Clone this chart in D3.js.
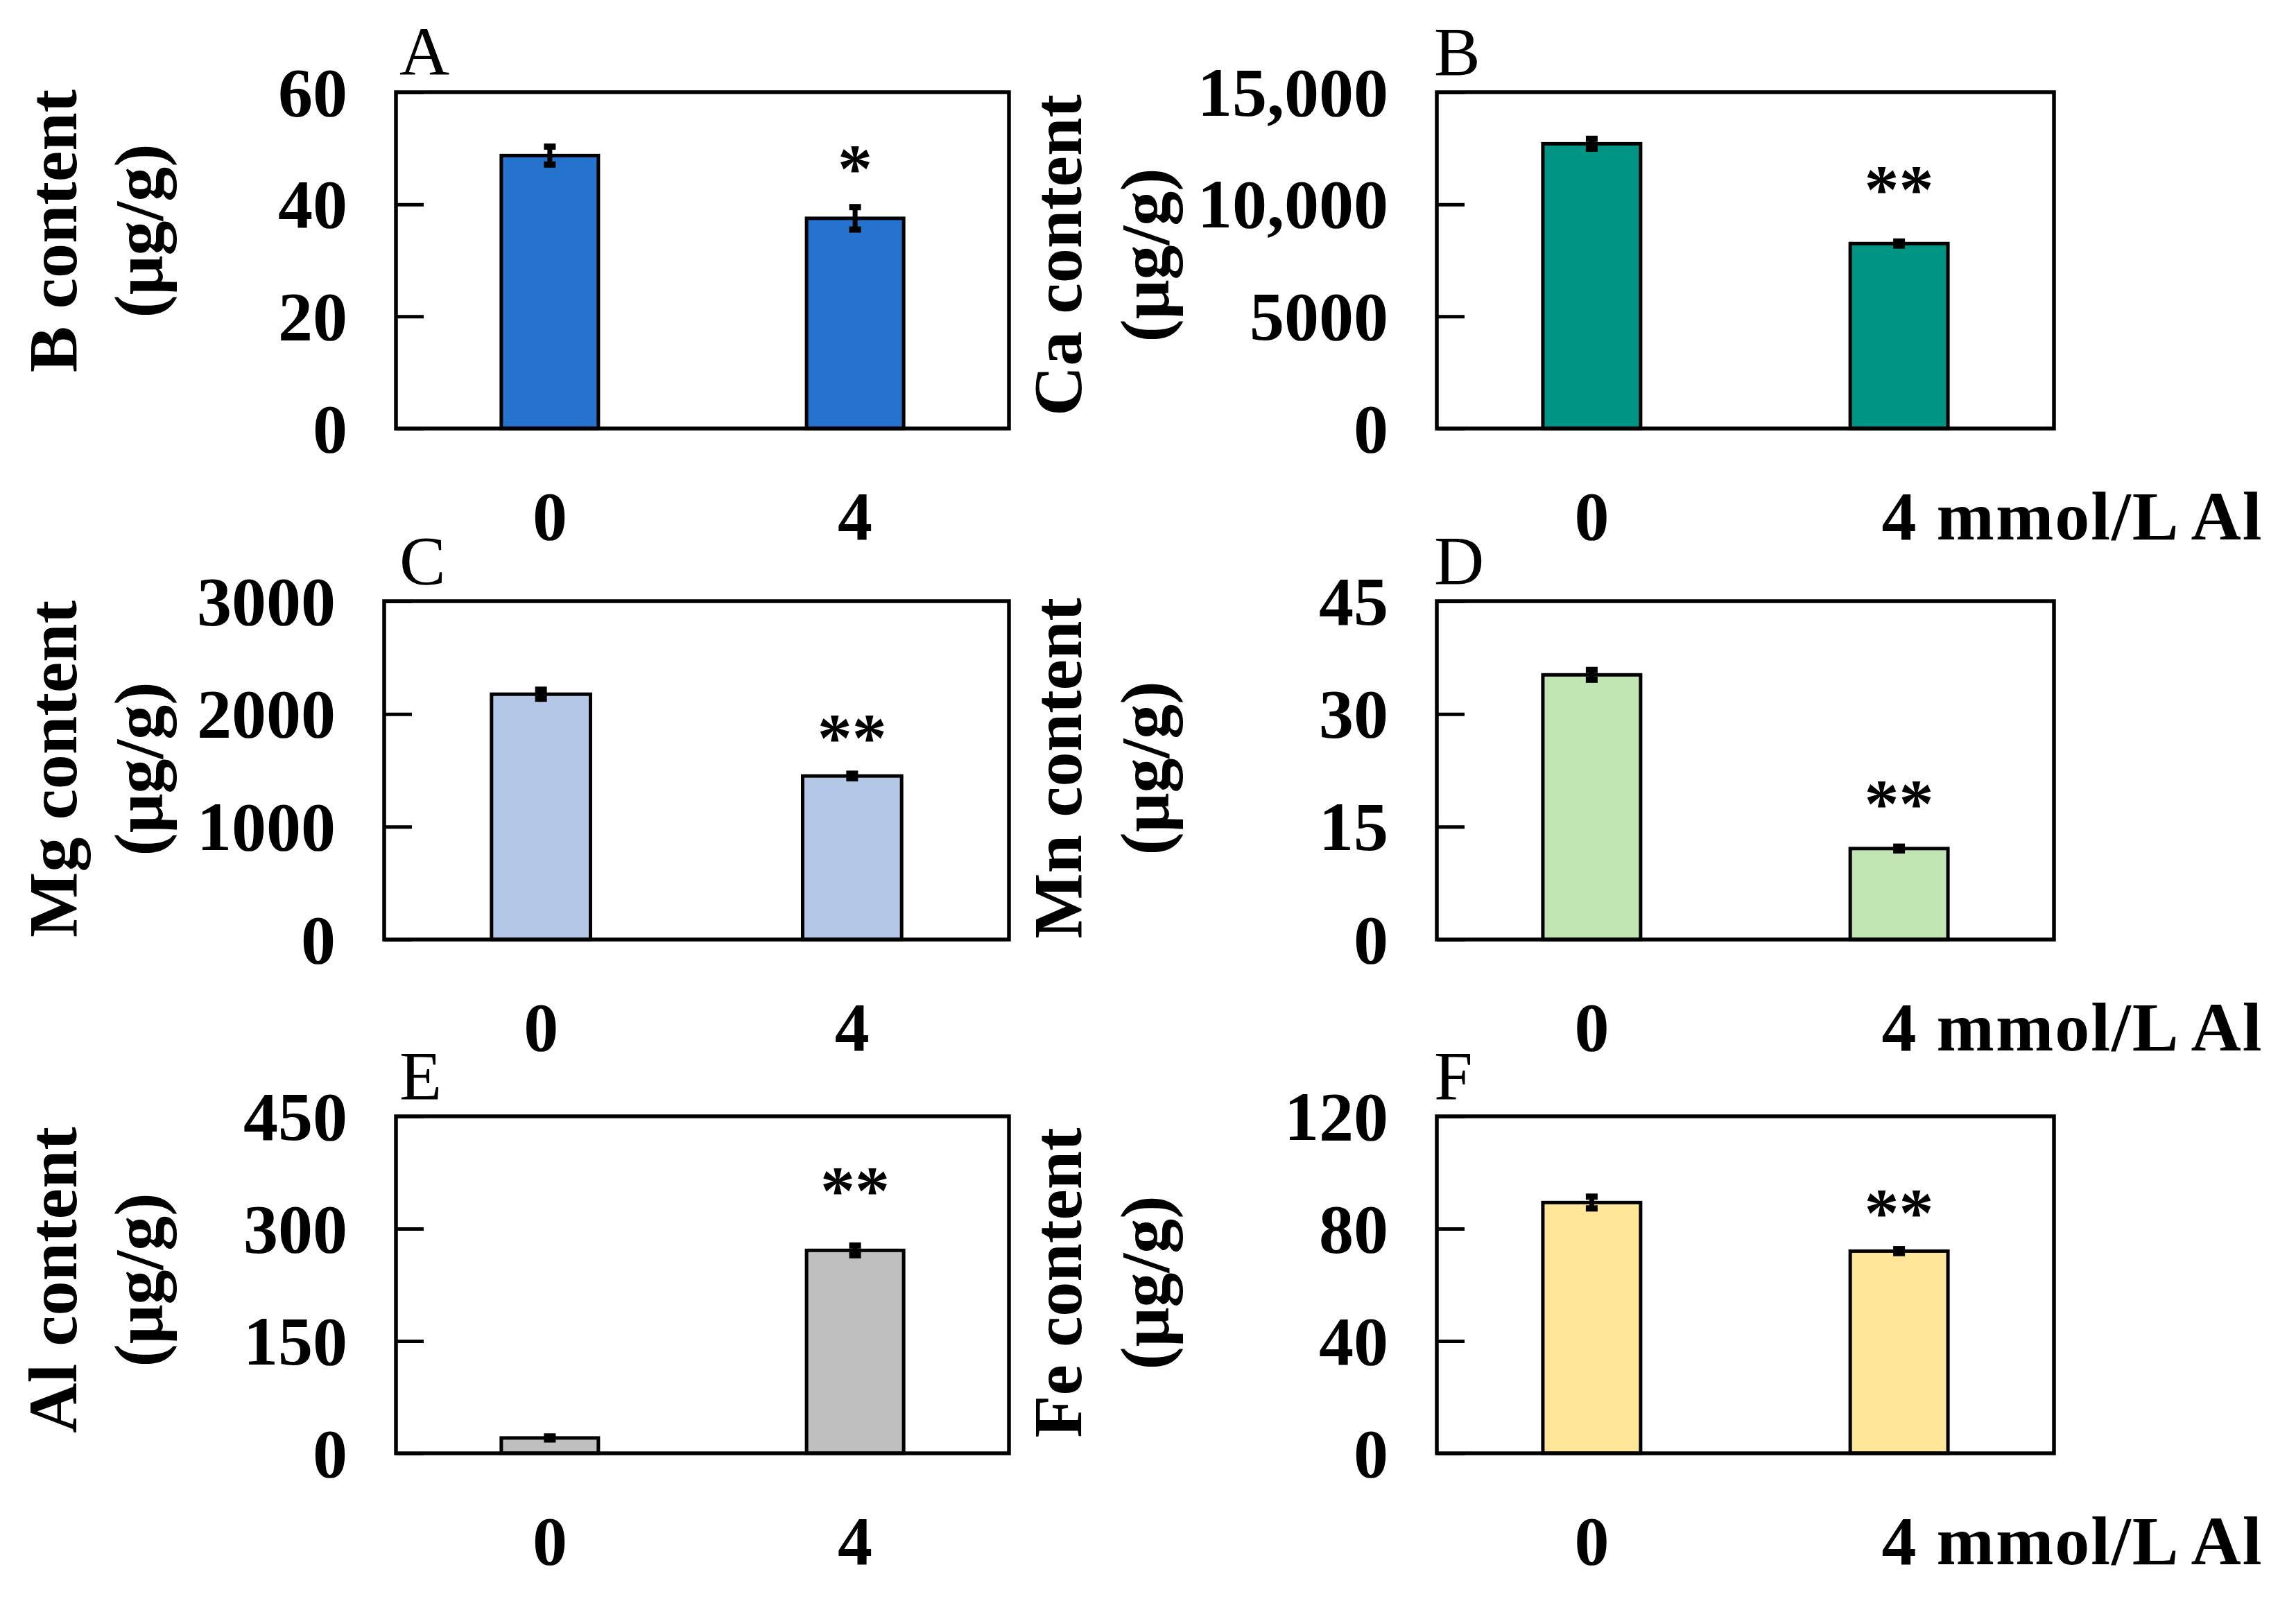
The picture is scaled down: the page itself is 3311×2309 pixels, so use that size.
<!DOCTYPE html>
<html>
<head>
<meta charset="utf-8">
<script src="https://cdn.jsdelivr.net/npm/d3@7"></script>
<style>
  body { margin: 0; background: #fff; }
  svg { display: block; }
  text { font-family: "Liberation Serif", "Times New Roman", serif; }
</style>
</head>
<body>
<svg id="fig" width="3311" height="2309"></svg>
<script>
// ---------------- donnees ----------------
var panelIds = ["A", "B", "C", "D", "E", "F"];
var elements = ["B", "Ca", "Mg", "Mn", "Al", "Fe"];
var treatments = ["0", "4"];          // mmol/L Al
var unitSuffix = " mmol/L Al";

// moyennes (µg/g) et erreurs
var bMeans  = [48.7, 37.5],    bErr  = [1.6, 2.0];
var caMeans = [12700, 8250],   caErr = [220, 90];
var mgMeans = [2175, 1450],    mgErr = [40, 20];
var mnMeans = [35.2, 12.1],    mnErr = [0.65, 0.25];
var alMeans = [20.5, 271],     alErr = [2.0, 6.5];
var feMeans = [89.3, 72.0],    feErr = [2.1, 0.7];

var yMax = [60, 15000, 3000, 45, 450, 120];
var yTickLabels = [
  ["0", "20", "40", "60"],
  ["0", "5000", "10,000", "15,000"],
  ["0", "1000", "2000", "3000"],
  ["0", "15", "30", "45"],
  ["0", "150", "300", "450"],
  ["0", "40", "80", "120"]
];
var signif = [["", "*"], ["", "**"], ["", "**"], ["", "**"], ["", "**"], ["", "**"]];

var means = [bMeans, caMeans, mgMeans, mnMeans, alMeans, feMeans];
var errs  = [bErr, caErr, mgErr, mnErr, alErr, feErr];

// ---------------- styles / mise en page ----------------
var barColors = ["#2573cf", "#009485", "#b4c7e7", "#c1e6b3", "#bfbfbf", "#ffe699"];

var cols = [
  { x0: 571,  x1: 1455, labelX: [110, 234],   letterX: 576 },
  { x0: 2072, x1: 2962, labelX: [1559, 1685], letterX: 2068 }
];
var rows = [
  { y0: 133,  y1: 618 },
  { y0: 867,  y1: 1355 },
  { y0: 1610, y1: 2096 }
];
var labelCenters = [333, 368, 1109, 1108, 1846, 1850];
var starGap = [18, 38, 14, 25, 42, 15];

var svg = d3.select("#fig");
svg.append("rect").attr("width", 3311).attr("height", 2309).attr("fill", "#fff");

panelIds.forEach(function(id, i) {
  var col = cols[i % 2], row = rows[Math.floor(i / 2)];
  var x0 = col.x0;
  if (id === "C") x0 = 554; // le cadre C est un peu plus large
  var w = col.x1 - x0, h = row.y1 - row.y0;

  var g = svg.append("g").attr("transform", "translate(" + x0 + "," + row.y0 + ")");

  var x = d3.scaleBand().domain(treatments).range([0, w])
    .paddingInner(0.682).paddingOuter(0.345);
  var y = d3.scaleLinear().domain([0, yMax[i]]).range([h, 0]);

  // axe y : graduations vers l'interieur
  var tickVals = d3.range(4).map(function(k) { return yMax[i] * k / 3; });
  var yAxis = d3.axisLeft(y)
    .tickValues(tickVals)
    .tickSizeInner(-40)
    .tickSizeOuter(0)
    .tickPadding(70)
    .tickFormat(function(d, k) { return yTickLabels[i][k]; });
  var ax = g.append("g").call(yAxis);
  ax.select(".domain").remove();
  ax.selectAll("line").attr("stroke", "#000").attr("stroke-width", 5);
  ax.selectAll("text")
    .attr("fill", "#000")
    .attr("font-size", 100)
    .attr("font-weight", "bold")
    .attr("font-family", "Liberation Serif, Times New Roman, serif")
    .attr("dy", "0.33em");

  // barres
  var data = treatments.map(function(t, k) {
    return { t: t, m: means[i][k], e: errs[i][k], s: signif[i][k] };
  });
  g.selectAll(".bar").data(data).enter().append("rect")
    .attr("class", "bar")
    .attr("x", function(d) { return x(d.t); })
    .attr("y", function(d) { return y(d.m); })
    .attr("width", x.bandwidth())
    .attr("height", function(d) { return h - y(d.m); })
    .attr("fill", barColors[i])
    .attr("stroke", "#000")
    .attr("stroke-width", 5);

  // barres d'erreur
  var cx = function(d) { return x(d.t) + x.bandwidth() / 2; };
  var eb = g.selectAll(".err").data(data).enter().append("g").attr("class", "err");
  eb.append("line")
    .attr("x1", cx).attr("x2", cx)
    .attr("y1", function(d) { return y(d.m + d.e); })
    .attr("y2", function(d) { return y(d.m - d.e); })
    .attr("stroke", "#000").attr("stroke-width", 7);
  [1, -1].forEach(function(sgn) {
    eb.append("line")
      .attr("x1", function(d) { return cx(d) - 8.5; })
      .attr("x2", function(d) { return cx(d) + 8.5; })
      .attr("y1", function(d) { return y(d.m + sgn * d.e); })
      .attr("y2", function(d) { return y(d.m + sgn * d.e); })
      .attr("stroke", "#000").attr("stroke-width", 9);
  });

  // etoiles de significativite
  g.selectAll(".sig").data(data).enter().append("text")
    .attr("class", "sig")
    .attr("x", cx)
    .attr("y", function(d) { return y(d.m + d.e) - 4.5 - starGap[i]; })
    .attr("text-anchor", "middle")
    .attr("font-size", 100)
    .attr("font-weight", "bold")
    .text(function(d) { return d.s; });

  // cadre
  g.append("rect")
    .attr("width", w).attr("height", h)
    .attr("fill", "none").attr("stroke", "#000").attr("stroke-width", 5.5);

  // etiquettes de l'axe x
  var isLong = function(k) { return i % 2 === 1 && k === 1; };
  g.selectAll(".xlab").data(treatments).enter().append("text")
    .attr("class", "xlab")
    .attr("x", function(t) { return x(t) + x.bandwidth() / 2; })
    .attr("y", h + 160)
    .attr("font-size", 100)
    .attr("font-weight", "bold")
    .attr("letter-spacing", function(t, k) { return isLong(k) ? 2 : 0; })
    .attr("text-anchor", function(t, k) { return isLong(k) ? "start" : "middle"; })
    .attr("dx", function(t, k) { return isLong(k) ? "-0.25em" : 0; })
    .text(function(t, k) { return isLong(k) ? t + unitSuffix : t; });

  // lettre du panneau
  svg.append("text")
    .attr("x", col.letterX)
    .attr("y", row.y0 - 25)
    .attr("font-size", 100)
    .text(id);

  // titre de l'axe y, sur deux lignes
  [elements[i] + " content", "(\u03bcg/g)"].forEach(function(s, k) {
    svg.append("text")
      .attr("transform", "translate(" + col.labelX[k] + "," + labelCenters[i] + ") rotate(-90)")
      .attr("text-anchor", "middle")
      .attr("font-size", 100)
      .attr("font-weight", "bold")
      .text(s);
  });
});
</script>
</body>
</html>
